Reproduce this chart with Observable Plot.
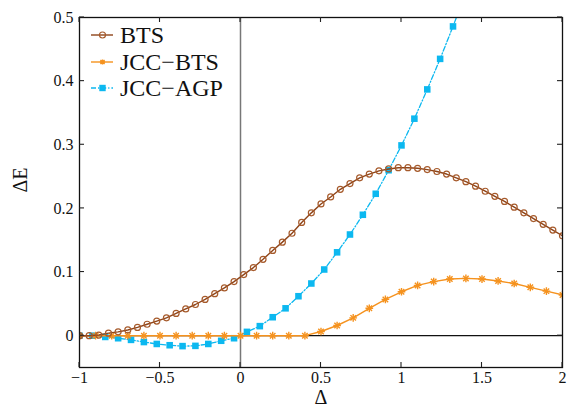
<!DOCTYPE html>
<html><head><meta charset="utf-8">
<script src="https://cdn.jsdelivr.net/npm/d3@7"></script>
<script src="https://cdn.jsdelivr.net/npm/@observablehq/plot@0.6"></script>
<style>
body{margin:0;background:#fff}
svg text{font-family:'Liberation Serif','DejaVu Serif',serif !important;}
</style>
</head><body><div id="chart"></div>
<script>
// ---- data ----
const btsX = [-1.00,-0.94,-0.88,-0.82,-0.76,-0.70,-0.64,-0.58,-0.52,-0.46,-0.40,-0.34,-0.28,-0.22,-0.16,-0.10,-0.04,
  0.02,0.08,0.14,0.20,0.26,0.32,0.38,0.44,0.50,0.56,0.62,0.68,0.74,0.80,0.86,0.92,0.98,1.04,1.10,1.16,1.22,1.28,1.34,
  1.40,1.46,1.52,1.58,1.64,1.70,1.76,1.82,1.88,1.94,2.00];
const btsY = [0,0,0.001,0.004,0.006,0.009,0.013,0.018,0.023,0.028,0.035,0.042,0.049,0.057,0.066,0.075,0.085,
  0.096,0.107,0.120,0.134,0.147,0.161,0.178,0.193,0.207,0.218,0.230,0.239,0.248,0.254,0.259,0.262,0.264,0.264,0.263,
  0.261,0.258,0.254,0.248,0.242,0.235,0.227,0.219,0.211,0.202,0.193,0.184,0.175,0.166,0.157];
const jccBtsX = [-1.0,-0.9,-0.8,-0.7,-0.6,-0.5,-0.4,-0.3,-0.2,-0.1,0.0,0.1,0.2,0.3,0.4,0.5,0.6,0.7,0.8,0.9,1.0,
  1.1,1.2,1.3,1.4,1.5,1.6,1.7,1.8,1.9,2.0];
const jccBtsY = [0,0,0,0,0,0,0,0,0,0,0,0,0,0,0,0.0066,0.016,0.028,0.043,0.057,0.069,0.079,0.085,0.089,0.090,
  0.089,0.086,0.082,0.076,0.070,0.064];
const jccAgpX = [-1.00,-0.92,-0.84,-0.76,-0.68,-0.60,-0.52,-0.44,-0.36,-0.28,-0.20,-0.12,-0.04,0.04,0.12,0.20,0.28,
  0.36,0.44,0.52,0.60,0.68,0.76,0.84,0.92,1.00,1.08,1.16,1.24,1.32,1.40];
const jccAgpY = [0,0,-0.002,-0.004,-0.0066,-0.010,-0.013,-0.015,-0.0164,-0.016,-0.013,-0.008,-0.004,0.006,0.015,
  0.029,0.043,0.062,0.082,0.104,0.131,0.159,0.190,0.223,0.260,0.299,0.341,0.387,0.435,0.486,0.540];
const seriesNames = ["BTS", "JCC\u2212BTS", "JCC\u2212AGP"];
const xTicks = [-1, -0.5, 0, 0.5, 1, 1.5, 2];
const yTicks = [0, 0.1, 0.2, 0.3, 0.4, 0.5];
const xLabel = "\u0394";
const yLabel = "\u0394E";

// ---- build ----
const toRows = (xs, ys) => xs.map((x, i) => ({x, y: ys[i]}));
const bts = toRows(btsX, btsY);
const jccBts = toRows(jccBtsX, jccBtsY);
const jccAgp = toRows(jccAgpX, jccAgpY);

const C_BTS_LINE = "#8e4419", C_BTS_MARK = "#a65a2b";
const C_ORANGE = "#f5921e";
const C_CYAN = "#0cb8f0";
const DASH = "5,2,1.2,2";
const font = "'Liberation Serif','DejaVu Serif',serif";
const fmt = d => d < 0 ? "\u2212" + Math.abs(d) : String(d);

function inwardTicks(index, scales, values, dims) {
  const {x, y} = scales;
  const {width, height, marginLeft, marginRight, marginTop, marginBottom} = dims;
  const L = marginLeft, R = width - marginRight, T = marginTop, B = height - marginBottom, len = 5;
  const g = d3.create("svg:g").attr("stroke", "#222").attr("stroke-width", 1.1);
  for (const t of xTicks) {
    const p = x(t);
    g.append("line").attr("x1", p).attr("x2", p).attr("y1", B).attr("y2", B - len);
    g.append("line").attr("x1", p).attr("x2", p).attr("y1", T).attr("y2", T + len);
  }
  for (const t of yTicks) {
    const p = y(t);
    g.append("line").attr("y1", p).attr("y2", p).attr("x1", L).attr("x2", L + len);
    g.append("line").attr("y1", p).attr("y2", p).attr("x1", R).attr("x2", R - len);
  }
  return g.node();
}

function legend(index, scales, values, dims) {
  const {marginLeft, marginTop} = dims;
  const g = d3.create("svg:g").attr("font-family", font).attr("font-size", 24).attr("fill", "#111")
    .attr("text-anchor", "start");
  const x0 = marginLeft + 12, x1 = marginLeft + 34, xm = marginLeft + 23.5, xt = marginLeft + 41;
  const ys = [marginTop + 18, marginTop + 45, marginTop + 71];
  // BTS
  g.append("line").attr("x1", x0).attr("x2", x1).attr("y1", ys[0]).attr("y2", ys[0])
    .attr("stroke", C_BTS_LINE).attr("stroke-width", 1.4);
  g.append("circle").attr("cx", xm).attr("cy", ys[0]).attr("r", 3).attr("fill", "none")
    .attr("stroke", C_BTS_MARK).attr("stroke-width", 1.2);
  // JCC-BTS
  g.append("line").attr("x1", x0).attr("x2", x1).attr("y1", ys[1]).attr("y2", ys[1])
    .attr("stroke", C_ORANGE).attr("stroke-width", 1.4);
  const s = 2.6;
  const st = g.append("g").attr("stroke", C_ORANGE).attr("stroke-width", 1.4);
  st.append("path").attr("d", `M${xm - s},${ys[1]}H${xm + s}M${xm},${ys[1] - s}V${ys[1] + s}M${xm - s * .8},${ys[1] - s * .8}L${xm + s * .8},${ys[1] + s * .8}M${xm - s * .8},${ys[1] + s * .8}L${xm + s * .8},${ys[1] - s * .8}`);
  // JCC-AGP
  g.append("line").attr("x1", x0).attr("x2", x1).attr("y1", ys[2]).attr("y2", ys[2])
    .attr("stroke", C_CYAN).attr("stroke-width", 1.4).attr("stroke-dasharray", DASH);
  g.append("rect").attr("x", xm - 3.2).attr("y", ys[2] - 3.2).attr("width", 6.4).attr("height", 6.4).attr("fill", C_CYAN);
  seriesNames.forEach((n, i) => {
    g.append("text").attr("x", xt).attr("y", ys[i]).attr("dy", "0.34em").attr("text-anchor", "start").text(n);
  });
  return g.node();
}

const chart = Plot.plot({
  width: 569, height: 411,
  marginLeft: 79, marginRight: 7, marginTop: 17, marginBottom: 44,
  style: {fontFamily: font, fontSize: "16px", background: "#fff", color: "#111"},
  x: {domain: [-1, 2], ticks: xTicks, tickFormat: fmt, tickSize: 0, tickPadding: 4, label: null},
  y: {domain: [-0.05, 0.5], ticks: yTicks, tickFormat: fmt, tickSize: 0, tickPadding: 6, label: null},
  marks: [
    Plot.ruleX([0], {stroke: "#777", strokeWidth: 1.5}),
    Plot.ruleY([0], {stroke: "#111", strokeWidth: 1.3}),
    Plot.line(jccAgp, {x: "x", y: "y", stroke: C_CYAN, strokeWidth: 1.3, strokeDasharray: DASH, clip: true}),
    Plot.dot(jccAgp, {x: "x", y: "y", symbol: "square", r: 3.7, fill: C_CYAN, stroke: "none", clip: true}),
    Plot.line(jccBts, {x: "x", y: "y", stroke: C_ORANGE, strokeWidth: 1.4, clip: true}),
    Plot.dot(jccBts, {x: "x", y: "y", symbol: "plus", r: 2.6, stroke: C_ORANGE, strokeWidth: 1.4, clip: true}),
    Plot.dot(jccBts, {x: "x", y: "y", symbol: "times", r: 2.6, stroke: C_ORANGE, strokeWidth: 1.4, clip: true}),
    Plot.line(bts, {x: "x", y: "y", stroke: C_BTS_LINE, strokeWidth: 1.4, clip: true}),
    Plot.dot(bts, {x: "x", y: "y", symbol: "circle", r: 3, fill: "none", stroke: C_BTS_MARK, strokeWidth: 1.2, clip: true}),
    Plot.frame({stroke: "#111", strokeWidth: 1.3}),
    inwardTicks,
    legend,
    Plot.text([yLabel], {frameAnchor: "left", dx: -59, rotate: -90, fontSize: 20, fill: "#111"}),
    Plot.text([xLabel], {frameAnchor: "bottom", dy: 36, fontSize: 20, fill: "#111"})
  ]
});
document.getElementById("chart").append(chart);
</script>
</body></html>
